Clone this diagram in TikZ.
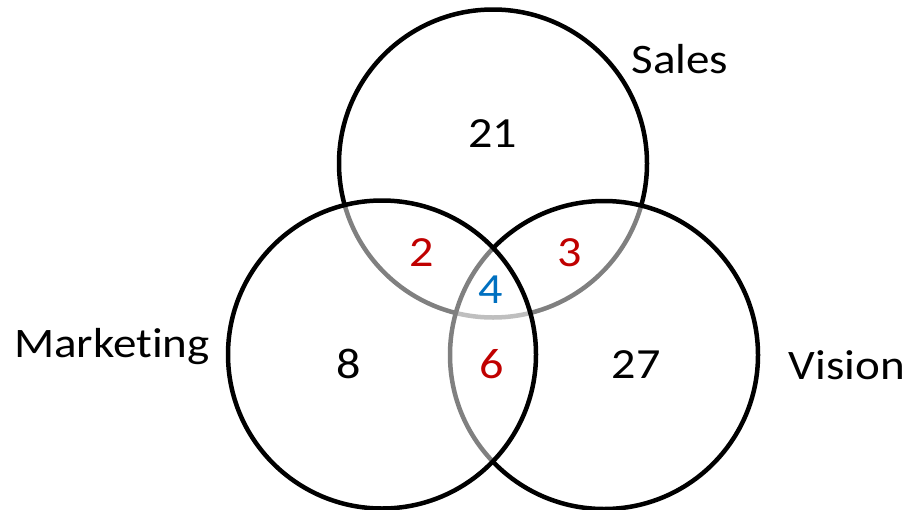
\documentclass[tikz,border=0pt]{standalone}
\usepackage{fontspec}
\usepackage{graphicx}
\setmainfont{Carlito}[Ligatures=NoCommon]
\definecolor{numred}{HTML}{C00000}
\definecolor{numblue}{HTML}{0070C0}
\newcommand{\widetxt}[1]{\scalebox{1.12}[1]{#1}}
\begin{document}
\begin{tikzpicture}[x=1pt,y=-1pt,
  setcircle/.style={draw=black,line width=4.5pt,fill=white,fill opacity=0.5},
  num/.style={anchor=base,inner sep=0pt,font=\fontsize{43}{48}\selectfont},
  lbl/.style={anchor=base,inner sep=0pt,font=\fontsize{42}{48}\selectfont}]
\useasboundingbox (0,0) rectangle (910,509);
% circles (order: Sales, Vision, Marketing)
\draw[setcircle] (493,163.5) circle[radius=154];
\draw[setcircle] (604,355) circle[radius=154];
\draw[setcircle] (382,354.5) circle[radius=154];
% numbers
\node[num] (n21) at (492.5,147) {\widetxt{21}};
\node[num,text=numred] (n2) at (422,266.7) {\widetxt{2}};
\node[num,text=numred] (n3) at (570,266.7) {\widetxt{3}};
\node[num,text=numblue] (n4) at (491,303) {\widetxt{4}};
\node[num] (n8) at (349,378.5) {\widetxt{8}};
\node[num,text=numred] (n6) at (491.5,378.5) {\widetxt{6}};
\node[num] (n27) at (636,378.5) {\widetxt{27}};
% labels
\node[lbl] (mkt) at (112,357.5) {\widetxt{Marketing}};
\node[lbl] (sales) at (680,73) {\widetxt{Sales}};
\node[lbl] (vision) at (847,379) {\widetxt{Vision}};
\end{tikzpicture}
\end{document}
